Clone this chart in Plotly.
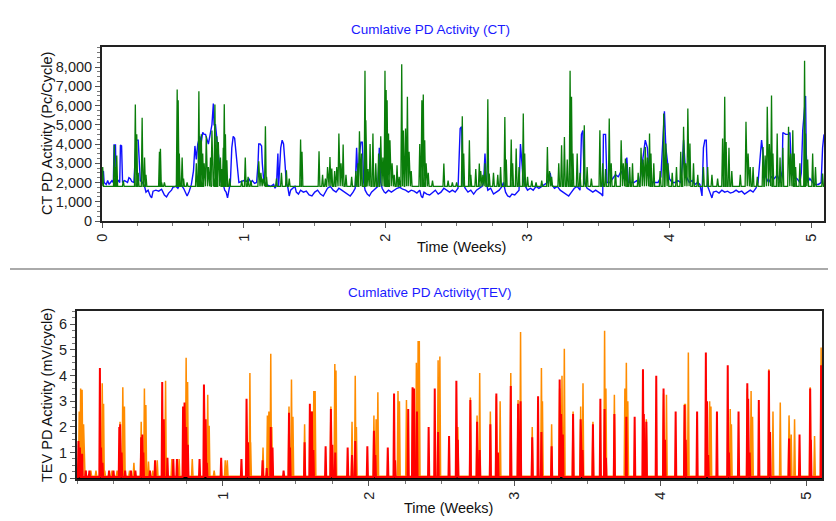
import plotly.graph_objects as go

# ---------------- DATA ----------------
# Top chart: CT PD activity (Pc/Cycle) vs time (weeks)
blue_t = [0.00,0.01,0.015,0.03,0.04,0.05,0.06,0.07,0.08,0.085,0.095,0.10,0.115,0.125,0.13,0.138,0.145,0.16,0.18,0.19,0.20,0.21,0.225,0.232,0.24,0.255,0.262,0.27,0.285,0.30,
          0.31,0.325,0.34,0.35,0.36,0.38,0.40,0.42,0.43,0.44,0.455,0.47,0.49,0.50,0.52,0.535,0.55,0.56,0.575,0.59,0.60,0.615,0.63,0.645,0.655,0.665,0.675,0.69,0.70,0.71,
          0.72,0.73,0.74,0.75,0.765,0.775,0.785,0.79,0.80,0.81,0.82,0.83,0.84,0.855,0.865,0.875,0.885,0.895,0.905,0.915,0.925,0.935,0.945,0.955,0.965,0.98,1.00,1.02,1.035,1.05,
          1.06,1.075,1.09,1.10,1.105,1.115,1.125,1.13,1.14,1.155,1.17,1.19,1.21,1.22,1.23,1.24,1.245,1.26,1.27,1.28,1.29,1.30,1.31,1.32,1.33,1.345,1.36,1.37,1.385,1.40,
          1.42,1.44,1.46,1.48,1.50,1.52,1.54,1.56,1.575,1.59,1.61,1.63,1.65,1.67,1.69,1.71,1.73,1.75,1.77,1.785,1.795,1.805,1.815,1.825,1.835,1.845,1.855,1.87,1.885,1.90,
          1.915,1.93,1.945,1.955,1.965,1.975,1.99,2.00,2.02,2.04,2.06,2.08,2.10,2.12,2.14,2.16,2.18,2.20,2.22,2.24,2.25,2.26,2.27,2.29,2.31,2.33,2.35,2.37,2.39,2.41,
          2.43,2.45,2.47,2.49,2.51,2.525,2.535,2.545,2.56,2.58,2.60,2.62,2.64,2.66,2.68,2.69,2.70,2.71,2.72,2.74,2.76,2.78,2.80,2.82,2.83,2.845,2.86,2.875,2.89,2.91,
          2.925,2.94,2.95,2.96,2.97,2.985,3.00,3.02,3.04,3.06,3.08,3.10,3.12,3.14,3.16,3.17,3.19,3.21,3.23,3.25,3.27,3.29,3.31,3.33,3.35,3.37,3.38,3.39,3.40,3.42,
          3.44,3.46,3.48,3.50,3.52,3.53,3.535,3.55,3.56,3.58,3.60,3.62,3.64,3.66,3.68,3.70,3.71,3.73,3.75,3.77,3.79,3.80,3.82,3.83,3.845,3.855,3.87,3.88,3.90,3.92,
          3.94,3.955,3.965,3.975,3.985,4.00,4.02,4.04,4.06,4.08,4.09,4.10,4.11,4.12,4.14,4.16,4.18,4.20,4.215,4.23,4.24,4.25,4.26,4.27,4.285,4.30,4.31,4.33,4.35,4.37,
          4.39,4.41,4.43,4.45,4.47,4.49,4.51,4.53,4.55,4.57,4.59,4.61,4.625,4.64,4.65,4.66,4.67,4.685,4.70,4.72,4.74,4.76,4.78,4.795,4.80,4.82,4.84,4.85,4.86,4.88,
          4.90,4.92,4.93,4.94,4.95,4.96,4.965,4.975,4.99,5.01,5.03,5.05,5.07,5.08,5.09]
blue_v = [2300,2600,2000,1900,2100,1900,2000,2100,2000,3950,3950,2000,2100,2000,3950,3900,2000,2100,2000,2250,2200,2050,2000,2800,4200,4200,3000,2100,2000,1800,
          1500,1600,1300,1200,1550,1600,1550,1650,1500,1350,1250,1450,1600,1750,1800,1700,1900,1850,1700,1400,1300,1550,1900,2600,3900,3200,4000,4400,4100,4600,
          4500,4500,4300,4000,4600,5000,6100,5000,5000,4100,3500,2800,2000,1900,1600,1500,1200,1600,2000,3800,4400,4300,3500,2500,2000,2050,2100,2050,2200,2000,
          2100,1950,2000,3000,4000,4000,3900,3000,2100,1900,1850,1800,1900,1700,1850,3500,1800,3800,4200,4000,3000,1900,1750,1300,1600,1700,1800,1500,1400,1600,
          1500,1550,1350,1300,1500,1600,1400,1300,1500,1700,1800,1600,1500,1700,1600,1500,1400,1300,1500,1700,3800,2000,3500,4100,4100,2000,1600,1400,1300,1500,
          1600,1700,1800,3800,2000,1700,1500,1450,1600,1500,1600,1700,1750,1650,1600,1500,1600,1550,1450,1600,1300,1200,1500,1400,1350,1500,1600,1400,1500,1700,
          1600,1500,1600,1500,1700,4800,4900,2000,1700,1500,1600,1400,1600,1700,1800,2000,3500,2000,1600,1700,1400,1500,1600,1800,2000,1500,1300,1250,1400,1350,
          1500,1600,4000,3000,2100,1800,1600,1700,1600,1800,1700,1800,1900,2000,2500,1900,1700,1800,1600,1500,1400,1300,1500,1700,1800,1600,4500,4700,2000,1700,
          1600,1500,1600,1500,1400,1300,4500,4500,2000,2000,2200,2400,2300,2600,2200,3300,2000,2000,2000,2100,2000,2500,3600,4200,3800,2600,2100,2000,2000,2000,
          2300,4500,5700,3800,3000,2200,2000,2000,2100,2000,2800,4200,3000,2300,2000,2100,1900,2000,1900,1300,3800,4200,4200,1800,1500,1200,1500,1550,1450,1600,
          1500,1550,1450,1500,1600,1500,1550,1400,1500,1600,1500,1700,2000,3500,4200,3500,2500,2200,2000,2300,2200,2400,2000,2600,4600,4500,4500,4600,2500,2300,
          2200,2000,2500,4700,5800,6500,3500,2000,2200,2000,1900,1900,2000,3800,4500]

green_base = 1800
green_t = [0.005,0.087,0.095,0.104,0.15,0.235,0.245,0.255,0.283,0.30,0.31,0.405,0.412,0.42,0.44,0.53,0.537,0.545,0.565,0.575,0.60,0.665,0.683,0.69,0.70,0.71,0.72,0.735,0.75,0.765,
           0.775,0.79,0.796,0.805,0.81,0.82,0.835,0.845,0.855,0.862,0.87,0.88,0.90,0.985,1.01,1.03,1.05,1.105,1.12,1.135,1.152,1.16,1.23,1.265,1.30,1.32,1.40,1.41,1.53,1.555,
           1.575,1.59,1.607,1.62,1.64,1.655,1.67,1.685,1.70,1.72,1.76,1.79,1.805,1.815,1.83,1.854,1.86,1.875,1.89,1.91,1.93,1.95,1.965,1.98,1.995,2.003,2.01,2.02,2.03,2.045,
           2.06,2.08,2.095,2.113,2.125,2.14,2.153,2.165,2.18,2.24,2.255,2.265,2.275,2.285,2.30,2.33,2.41,2.44,2.47,2.50,2.54,2.55,2.59,2.60,2.635,2.66,2.67,2.685,2.70,2.72,
           2.73,2.76,2.79,2.81,2.84,2.85,2.885,2.895,2.92,2.94,2.97,2.98,3.00,3.03,3.06,3.10,3.14,3.155,3.17,3.22,3.24,3.26,3.28,3.30,3.31,3.32,3.35,3.37,3.40,3.42,
           3.45,3.51,3.53,3.55,3.576,3.59,3.62,3.66,3.675,3.69,3.70,3.72,3.74,3.78,3.80,3.815,3.83,3.845,3.86,3.87,3.89,3.935,3.96,3.975,3.99,4.02,4.05,4.08,4.10,4.115,
           4.13,4.145,4.17,4.20,4.24,4.27,4.30,4.34,4.375,4.39,4.40,4.42,4.44,4.50,4.54,4.555,4.57,4.59,4.62,4.66,4.675,4.69,4.705,4.72,4.73,4.76,4.78,4.80,4.84,4.855,
           4.87,4.88,4.89,4.92,4.953,4.96,4.975,5.01,5.03,5.08]
green_v = [2800,3950,2800,3400,2100,6050,4500,2500,5370,3300,2400,3600,3750,2000,2000,6830,6270,3500,3300,2200,2000,3000,6740,4200,4500,3500,3000,4400,2800,3300,
           4700,2300,6050,2500,4400,4100,3300,2700,3800,6070,4500,3150,2200,2100,3300,2300,2100,3100,2500,2200,4920,2300,2200,2500,2630,2200,4230,3600,3620,2400,
           2200,2800,3330,2720,2600,2800,4540,3000,3970,2400,2300,2600,3000,4660,3500,7800,5230,2700,4000,4540,3000,3500,4400,3300,7800,6800,6270,4540,4200,3000,
           2400,2900,2300,8150,4700,4800,6450,3600,2600,4000,6270,6570,4200,3000,2500,2100,2980,2100,2000,2000,5440,3500,4200,2400,2700,2980,2600,2400,3000,6330,
           2460,2500,2400,2800,5400,3200,4230,3000,3760,2800,5580,3500,2290,2100,2000,2100,3850,2600,2300,3000,3930,4370,3200,7800,6450,3500,3500,2500,4970,2800,
           2200,4710,3000,2700,5320,3000,2600,4190,3000,3240,3000,2800,3000,2500,3800,3200,3850,3300,4540,3500,3000,2600,5580,4020,3000,2500,2800,3600,4890,3000,
           5840,4020,3000,2400,2800,2800,2400,2200,4280,6450,4110,3800,2600,2400,5150,3500,2800,2800,2300,3850,3400,5930,4000,6520,3500,4540,3300,3800,4890,3500,
           4710,3500,2800,3000,8320,4540,3200,3500,2800,2460]
ct_ticks = [0, 1000, 2000, 3000, 4000, 5000, 6000, 7000, 8000]
week_ticks_top = [0, 1, 2, 3, 4, 5]

# Bottom chart: TEV PD activity (mV/cycle) vs time (weeks)
orange_base = 0.08
orange_t = [0.015,0.025,0.035,0.045,0.06,0.095,0.13,0.173,0.182,0.19,0.24,0.275,0.295,0.314,0.325,0.36,0.39,0.44,0.462,0.472,0.49,0.52,0.55,0.607,0.615,0.65,0.70,0.748,0.758,0.79,
            0.896,0.906,0.94,1.016,1.03,1.185,1.19,1.275,1.305,1.315,1.328,1.335,1.453,1.47,1.48,1.56,1.61,1.623,1.632,1.74,1.767,1.775,1.885,1.907,1.915,2.035,2.05,2.062,2.20,2.21,
            2.258,2.30,2.326,2.338,2.346,2.475,2.487,2.61,2.696,2.742,2.76,2.833,2.874,2.90,2.973,3.023,3.04,3.12,3.183,3.19,3.253,3.308,3.324,3.34,3.40,3.452,3.468,3.536,3.616,3.625,
            3.683,3.755,3.765,3.775,3.902,4.02,4.04,4.164,4.17,4.19,4.336,4.345,4.477,4.485,4.594,4.62,4.63,4.742,4.77,4.82,4.88,4.895,4.918,5.025,5.055,5.10]
orange_v = [2.6,3.5,3.45,2.1,0.3,0.3,0.3,3.7,2.9,0.3,0.3,0.3,2.2,3.55,2.8,0.3,0.6,2.2,3.5,2.85,0.65,0.3,0.7,3.8,0.8,0.75,0.75,4.7,3.75,0.75,
            3.25,2.05,0.3,0.7,0.7,4.1,1.4,1.2,2.45,2.6,4.85,2.0,2.8,3.85,2.4,2.1,2.6,3.4,3.4,2.8,4.45,4.2,2.2,4.0,2.0,2.45,2.3,3.35,3.4,3.0,
            3.05,3.5,4.5,5.35,5.35,4.6,4.75,2.0,3.15,2.45,4.1,2.6,3.2,3.0,4.1,3.05,5.7,2.0,4.3,3.0,2.1,3.5,4.0,5.05,2.6,2.8,3.7,2.2,5.75,3.5,
            3.25,3.5,4.5,3.0,2.3,3.3,3.25,2.9,2.9,4.9,3.0,2.8,2.7,2.1,3.5,3.4,2.4,4.25,2.6,2.95,2.45,1.7,2.3,3.55,1.65,5.1]

red_base = 0.05
red_t = [0.01,0.02,0.035,0.06,0.085,0.157,0.165,0.175,0.22,0.25,0.29,0.296,0.306,0.33,0.37,0.40,0.44,0.448,0.455,0.50,0.535,0.584,0.595,0.62,0.66,0.685,0.727,0.737,0.748,0.76,
         0.84,0.87,0.882,0.89,0.988,1.127,1.162,1.172,1.272,1.30,1.328,1.34,1.416,1.453,1.46,1.56,1.596,1.61,1.62,1.704,1.74,1.75,1.77,1.855,1.885,1.907,1.99,2.035,2.045,2.13,
         2.173,2.18,2.27,2.30,2.31,2.33,2.41,2.452,2.475,2.55,2.60,2.61,2.696,2.742,2.76,2.833,2.874,2.885,2.973,3.023,3.04,3.12,3.16,3.183,3.253,3.308,3.318,3.33,3.40,3.452,
         3.465,3.536,3.587,3.616,3.625,3.683,3.765,3.822,3.879,3.885,3.902,3.97,4.02,4.03,4.103,4.164,4.172,4.25,4.31,4.318,4.326,4.386,4.46,4.468,4.534,4.594,4.60,4.61,4.673,4.742,
         4.75,4.88,4.952,5.025,5.03,5.10]
red_v = [1.45,1.2,0.95,0.3,0.3,4.3,1.2,0.6,0.3,0.3,2.0,2.1,1.0,0.3,0.3,0.3,1.6,1.7,1.0,0.3,0.7,3.75,2.3,0.8,0.75,0.75,2.8,2.95,2.0,1.3,
         0.75,3.65,2.3,0.6,0.8,0.75,3.1,1.4,0.7,0.4,2.0,1.2,0.3,2.55,1.2,1.4,2.9,2.6,1.1,1.25,2.7,1.3,1.0,1.2,0.9,1.45,1.25,1.85,0.9,1.2,
         3.3,0.7,2.7,3.55,3.5,2.6,2.0,3.5,1.8,1.65,3.8,1.5,3.05,2.2,1.1,2.1,3.3,1.0,3.6,2.9,3.0,1.6,3.2,1.8,1.25,3.85,2.5,1.7,2.5,2.3,
         1.1,2.1,3.1,2.7,0.8,2.5,2.4,2.4,4.25,2.5,2.2,4.0,3.5,1.5,2.6,2.85,1.5,2.6,4.9,3.0,0.9,2.6,4.4,1.0,2.6,3.7,3.1,1.0,3.05,4.2,
         1.8,1.55,1.7,3.5,1.5,4.4]

zero_t = [0.0, 5.106]
zero_v = [0.0, 0.0]
tev_ticks = [0, 1, 2, 3, 4, 5, 6]
week_ticks_bottom = [1, 2, 3, 4, 5]

# ---------------- HELPERS ----------------
def spike_path(ts, vs, base, half, t0, t1):
    xs, ys = [t0], [base]
    for t, v in zip(ts, vs):
        xs += [max(t0, t - half), t, t + half]
        ys += [base, v, base]
    xs.append(t1)
    ys.append(base)
    return xs, ys

# The page body keeps the browser's default 8px margin, so the figure is
# drawn 8px in from the top-left of the 836x521 window.
OFF = 8
W, H = 836 - OFF, 521 - OFF
def px(x): return (x - OFF) / W
def py(y): return 1 - (y - OFF) / H

FONT = "Arial, Liberation Sans, sans-serif"

fig = go.Figure()

gx, gy = spike_path(green_t, green_v, green_base, 0.006, 0.0, 5.09)
ox, oy = spike_path(orange_t, orange_v, orange_base, 0.005, 0.0, 5.106)
rx, ry = spike_path(red_t, red_v, red_base, 0.004, 0.0, 5.106)

fig.add_trace(go.Scatter(x=blue_t, y=blue_v, mode="lines", line=dict(color="#1010ff", width=1.4),
                         xaxis="x", yaxis="y", showlegend=False))
fig.add_trace(go.Scatter(x=gx, y=gy, mode="lines", line=dict(color="#0a7d0a", width=1.3),
                         xaxis="x", yaxis="y", showlegend=False))
fig.add_trace(go.Scatter(x=zero_t, y=zero_v, mode="lines", line=dict(color="#000000", width=3),
                         xaxis="x2", yaxis="y2", showlegend=False))
fig.add_trace(go.Scatter(x=ox, y=oy, mode="lines", line=dict(color="#ff8c00", width=1.5),
                         xaxis="x2", yaxis="y2", showlegend=False))
fig.add_trace(go.Scatter(x=rx, y=ry, mode="lines", line=dict(color="#ff0000", width=2),
                         xaxis="x2", yaxis="y2", showlegend=False))

tickfont = dict(family=FONT, size=14.5, color="#222")
common_axis = dict(showgrid=False, zeroline=False, showline=True, mirror=True, automargin=False,
                   linecolor="#222", linewidth=2, ticks="outside", ticklen=5,
                   tickcolor="#555", tickfont=tickfont)

fig.update_layout(
    width=W, height=H, margin=dict(l=0, r=0, t=0, b=0),
    paper_bgcolor="white", plot_bgcolor="white",
    xaxis=dict(common_axis, domain=[px(102), px(824)], range=[0, 5.09], anchor="y",
               tickvals=week_ticks_top, tickangle=-90,
               minor=dict(dtick=0.25, ticklen=3, ticks="outside", tickcolor="#777")),
    yaxis=dict(common_axis, domain=[py(221), py(47)], range=[0, 9040], anchor="x",
               tickvals=ct_ticks, tickformat=",",
               minor=dict(dtick=250, ticklen=3, ticks="outside", tickcolor="#777")),
    xaxis2=dict(common_axis, domain=[px(77), px(822)], range=[0, 5.106], anchor="y2",
                tickvals=week_ticks_bottom, tickangle=-90,
                minor=dict(dtick=0.25, ticklen=3, ticks="outside", tickcolor="#777")),
    yaxis2=dict(common_axis, domain=[py(479), py(311)], range=[-0.03, 6.52], anchor="x2",
                tickvals=tev_ticks,
                minor=dict(dtick=0.25, ticklen=3, ticks="outside", tickcolor="#777")),
)

ann_font = dict(family=FONT, size=14.5, color="#111")
title_font = dict(family=FONT, size=13.5, color="#1a1aff")
fig.add_annotation(x=px(430), y=py(29), xref="paper", yref="paper", text="Cumlative PD Activity (CT)",
                   showarrow=False, font=title_font, xanchor="center", yanchor="middle")
fig.add_annotation(x=px(430), y=py(292), xref="paper", yref="paper", text="Cumlative PD Activity(TEV)",
                   showarrow=False, font=title_font, xanchor="center", yanchor="middle")
fig.add_annotation(x=px(461), y=py(247), xref="paper", yref="paper", text="Time (Weeks)",
                   showarrow=False, font=ann_font, xanchor="center", yanchor="middle")
fig.add_annotation(x=px(448), y=py(508), xref="paper", yref="paper", text="Time (Weeks)",
                   showarrow=False, font=ann_font, xanchor="center", yanchor="middle")
fig.add_annotation(x=px(47), y=py(134), xref="paper", yref="paper", text="CT PD Activity (Pc/Cycle)",
                   showarrow=False, font=ann_font, textangle=-90, xanchor="center", yanchor="middle")
fig.add_annotation(x=px(47), y=py(395), xref="paper", yref="paper", text="TEV PD Activity (mV/cycle)",
                   showarrow=False, font=ann_font, textangle=-90, xanchor="center", yanchor="middle")

fig.add_shape(type="line", xref="paper", yref="paper", x0=px(10), x1=1, y0=py(269), y1=py(269),
              line=dict(color="#aaaaaa", width=2))

fig.write_html("out.html")
